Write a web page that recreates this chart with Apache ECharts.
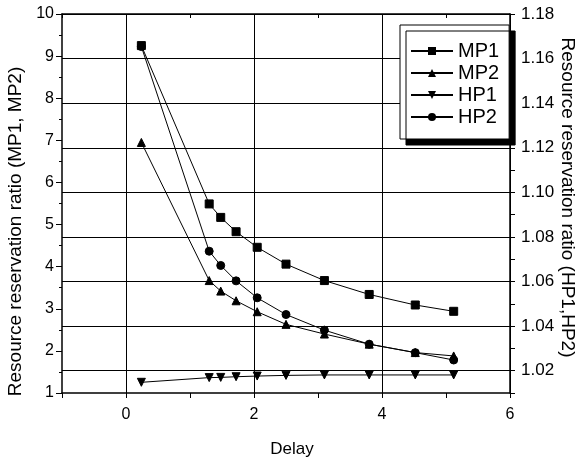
<!DOCTYPE html>
<html><head><meta charset="utf-8">
<script src="https://cdn.jsdelivr.net/npm/echarts@6/dist/echarts.min.js"></script>
<style>html,body{margin:0;padding:0;background:#fff}#c{width:579px;height:461px}</style>
</head><body><div id="c"></div>
<script>
// ---- data ----
const delay = [0.24, 1.3, 1.48, 1.72, 2.05, 2.5, 3.1, 3.8, 4.52, 5.12];
const mp1 = [9.25, 5.49, 5.17, 4.83, 4.46, 4.06, 3.67, 3.34, 3.09, 2.94];
const mp2 = [6.95, 3.67, 3.42, 3.19, 2.93, 2.63, 2.40, 2.16, 1.96, 1.88];
const hp1 = [1.0148, 1.0169, 1.0170, 1.0173, 1.0176, 1.0179, 1.0181, 1.0181, 1.0181, 1.0181];
const hp2 = [1.1654, 1.0736, 1.0672, 1.0603, 1.0527, 1.0452, 1.0382, 1.0319, 1.0281, 1.0248];
const seriesNames = ['MP1', 'MP2', 'HP1', 'HP2'];
const xTickLabels = [0, 2, 4, 6];
const leftTickLabels = [1, 2, 3, 4, 5, 6, 7, 8, 9, 10];
const rightTickLabels = ['1.02', '1.04', '1.06', '1.08', '1.10', '1.12', '1.14', '1.16', '1.18'];

const FONT = '"Liberation Sans", Arial, Helvetica, sans-serif';
const BLACK = '#000';
const pts = (ys) => delay.map((x, i) => [x, ys[i]]);

const chart = echarts.init(document.getElementById('c'), null, {renderer: 'canvas'});

function mkSeries(name, ys, yIdx, symbol, rot, z) {
  return {
    name, type: 'line', yAxisIndex: yIdx, data: pts(ys),
    symbol, symbolSize: 8, symbolRotate: rot, showAllSymbol: true,
    lineStyle: {color: BLACK, width: 1},
    itemStyle: {color: BLACK, borderColor: BLACK},
    emphasis: {disabled: true}, z, animation: false
  };
}

chart.setOption({
  animation: false,
  backgroundColor: '#fff',
  textStyle: {fontFamily: FONT, color: BLACK},
  grid: {left: 62, right: 69, top: 14, bottom: 68, containLabel: false, outerBoundsMode: 'none'},
  legend: {
    data: seriesNames,
    orient: 'vertical', left: 400, top: 25,
    itemWidth: 42, itemHeight: 10, itemGap: 2,
    padding: [16, 10, 12, 10],
    backgroundColor: '#fff', borderColor: BLACK, borderWidth: 1,
    shadowColor: BLACK, shadowBlur: 0, shadowOffsetX: 6, shadowOffsetY: 6,
    textStyle: {fontFamily: FONT, fontSize: 20, lineHeight: 20, color: BLACK},
    selectedMode: false
  },
  xAxis: [{
    type: 'value', position: 'bottom', min: -1, max: 6, interval: 1,
    name: 'Delay', nameLocation: 'middle', nameGap: 48,
    nameTextStyle: {fontFamily: FONT, fontSize: 17, color: BLACK, padding: [0, 0, 0, 12]},
    axisLine: {show: true, onZero: false, lineStyle: {color: BLACK, width: 1.5}},
    axisTick: {show: true, length: 5, lineStyle: {color: BLACK, width: 1}},
    axisLabel: {
      margin: 14, fontSize: 16, color: BLACK, fontFamily: FONT,
      formatter: v => xTickLabels.includes(Math.round(v)) ? String(Math.round(v)) : ''
    },
    splitLine: {show: true, showMinLine: true, lineStyle: {color: ['rgba(0,0,0,0)', BLACK], width: 1}}
  }, {
    type: 'value', position: 'top', min: -1, max: 6, interval: 1,
    axisLine: {show: true, onZero: false, lineStyle: {color: BLACK, width: 1.5}},
    axisTick: {show: true, inside: true, length: 4, lineStyle: {color: BLACK}},
    axisLabel: {show: false}, splitLine: {show: false}
  }],
  yAxis: [{
    type: 'value', position: 'left', min: 1, max: 10, interval: 1,
    name: 'Resource reservation ratio (MP1, MP2)', nameLocation: 'middle', nameRotate: 90, nameGap: 36,
    nameTextStyle: {fontFamily: FONT, fontSize: 19, color: BLACK, padding: [0, 56, 0, 0]},
    axisLine: {show: true, onZero: false, lineStyle: {color: BLACK, width: 1.5}},
    axisTick: {show: true, length: 6, lineStyle: {color: BLACK}},
    minorTick: {show: true, splitNumber: 2, length: 3, lineStyle: {color: BLACK}},
    axisLabel: {
      margin: 8, fontSize: 16, color: BLACK, fontFamily: FONT,
      formatter: v => leftTickLabels.includes(Math.round(v)) ? String(Math.round(v)) : ''
    },
    splitLine: {show: false}
  }, {
    type: 'value', position: 'right', min: 1.01, max: 1.18, interval: 0.01,
    name: 'Resource reservation ratio (HP1,HP2)', nameLocation: 'middle', nameRotate: -90, nameGap: 48,
    nameMoveOverlap: false,
    nameTextStyle: {fontFamily: FONT, fontSize: 19, color: BLACK, padding: [0, 12, 0, 0]},
    axisLine: {show: true, onZero: false, lineStyle: {color: BLACK, width: 1.5}},
    axisTick: {show: true, length: 5, lineStyle: {color: BLACK}},
    axisLabel: {
      margin: 11, fontSize: 17, color: BLACK, fontFamily: FONT,
      formatter: v => { const s = v.toFixed(2); return rightTickLabels.includes(s) ? s : ''; }
    },
    splitLine: {show: true, showMinLine: true, lineStyle: {color: ['rgba(0,0,0,0)', BLACK], width: 1}}
  }],
  series: [
    mkSeries('MP2', mp2, 0, 'triangle', 0, 3),
    mkSeries('HP1', hp1, 1, 'triangle', 180, 3),
    mkSeries('HP2', hp2, 1, 'circle', 0, 3),
    mkSeries('MP1', mp1, 0, 'rect', 0, 4)
  ]
});
</script></body></html>
